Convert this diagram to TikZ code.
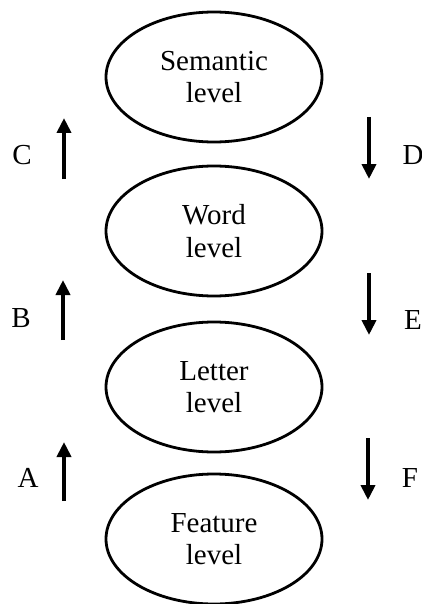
\documentclass[tikz,border=0pt]{standalone}
\usepackage{fontspec}
\setmainfont{Liberation Serif}
\usetikzlibrary{shapes.geometric,arrows.meta}
\tikzset{
  levelbox/.style={ellipse, draw, line width=2.8pt, minimum width=216pt,
    minimum height=130pt, inner sep=0pt, align=center,
    font=\fontsize{29}{32.5}\selectfont},
  flowarrow/.style={line width=4pt, -{Triangle[width=14pt,length=15pt]}},
  tag/.style={inner sep=0pt, font=\fontsize{29}{32.5}\selectfont}
}
\begin{document}
\begin{tikzpicture}[x=1pt,y=-1pt]
\useasboundingbox (0,0) rectangle (422,604);
% the four processing levels
\node[levelbox] (sem) at (214,77)  {Semantic\\level};
\node[levelbox] (word) at (214,231) {Word\\level};
\node[levelbox] (let) at (214,387) {Letter\\level};
\node[levelbox] (feat) at (214,539) {Feature\\level};
% bottom-up arrows (left)
\coordinate (c0) at (64,179); \coordinate (c1) at (64,118);
\coordinate (b0) at (63,340); \coordinate (b1) at (63,280);
\coordinate (a0) at (64,501); \coordinate (a1) at (64,442);
\draw[flowarrow] (c0) -- (c1);
\draw[flowarrow] (b0) -- (b1);
\draw[flowarrow] (a0) -- (a1);
% top-down arrows (right)
\coordinate (d0) at (369,117); \coordinate (d1) at (369,179);
\coordinate (e0) at (369,273); \coordinate (e1) at (369,335);
\coordinate (f0) at (368,438); \coordinate (f1) at (368,500);
\draw[flowarrow] (d0) -- (d1);
\draw[flowarrow] (e0) -- (e1);
\draw[flowarrow] (f0) -- (f1);
% labels
\node[tag] (lc) at (22,155) {C};
\node[tag] (lb) at (21,318) {B};
\node[tag] (la) at (28,478) {A};
\node[tag] (ld) at (413,155) {D};
\node[tag] (le) at (413,320) {E};
\node[tag] (lf) at (410,478) {F};
\end{tikzpicture}
\end{document}
